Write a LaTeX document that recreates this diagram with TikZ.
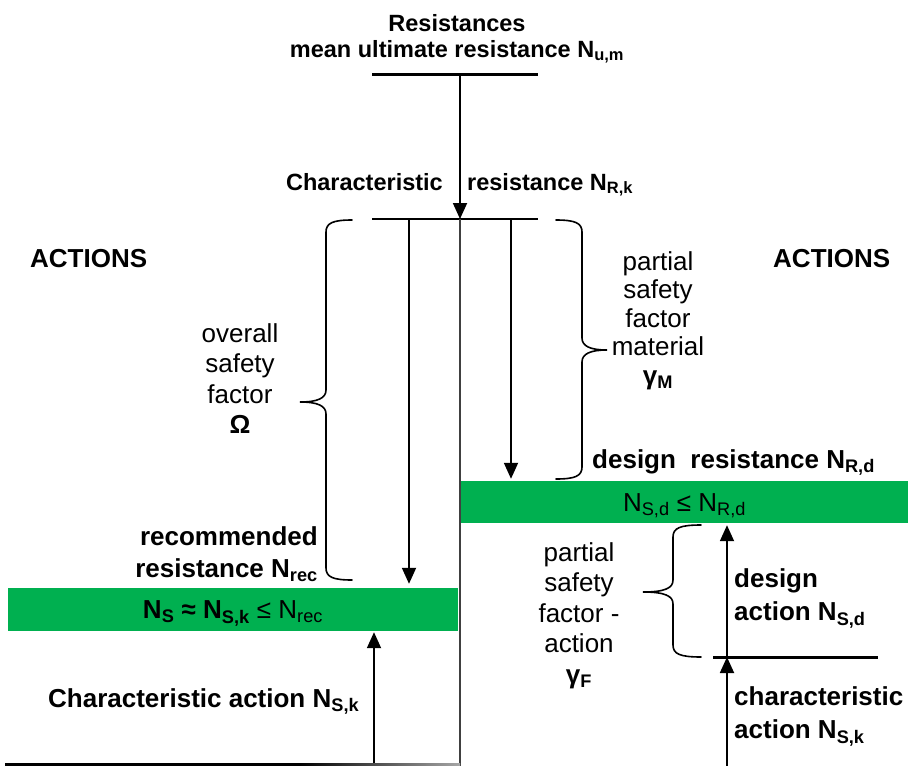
\documentclass[tikz,border=0pt]{standalone}
\usepackage{fontspec}
\setmainfont{Liberation Sans}
\usetikzlibrary{arrows.meta}
\definecolor{barGreen}{RGB}{0,176,80}
\newcommand\sbs[1]{\textsubscript{#1}}
\begin{document}
\begin{tikzpicture}[x=1pt,y=-1pt,
  rt/.style={inner sep=0pt, font=\fontsize{26}{30.5}\selectfont},
  bt/.style={inner sep=0pt, font=\fontsize{26}{33}\selectfont\bfseries},
  tt/.style={inner sep=0pt, font=\fontsize{23.5}{26}\selectfont\bfseries},
  arr/.style={line width=1.8pt, -{Triangle[width=14pt,length=16pt]}},
  brc/.style={line width=1.6pt, line cap=round},
  greenbar/.style={fill=barGreen, inner sep=0pt, text height=18.6pt, text depth=0pt, font=\fontsize{26}{30}\selectfont},
  midline/.style={line width=1.8pt, draw=black!75}
]
\useasboundingbox (0,0) rectangle (908,766);

% green bars
\node[greenbar, minimum width=450pt, minimum height=43pt] (barL) at (233,609.5)
  {\textbf{N\sbs{S} ≈ N\sbs{S,k}} ≤ N\sbs{rec}};
\node[greenbar, minimum width=447pt, minimum height=42pt] (barR) at (684.5,502)
  {N\sbs{S,d} ≤ N\sbs{R,d}};

% coordinates
\coordinate (t1L) at (372,74);
\coordinate (t1R) at (538,74);
\coordinate (t1M) at (460,74);
\coordinate (t2L) at (372,219);
\coordinate (t2R) at (538,219);
\coordinate (t2M) at (460,219);
\coordinate (a1) at (409,219);
\coordinate (a2) at (511,219);
\coordinate (bot) at (460,766);
\coordinate (up1) at (374,766);
\coordinate (up2) at (727,766);
\coordinate (hk) at (727,657);
\coordinate (hkL) at (713,657);
\coordinate (hkR) at (878,657);

% lines
\draw[line width=3pt] (t1L) -- (t1R);
\draw[line width=2.5pt] (t2L) -- (t2R);
\draw[arr] (t1M) -- (t2M);
\draw[midline] (t2M) -- (bot);
\draw[arr, shorten >=4pt] (a1) -- (a1 |- barL.north);
\draw[arr, shorten >=2pt] (a2) -- (a2 |- barR.north);
\draw[arr, shorten >=1pt] (up1) -- (up1 |- barL.south);
\draw[line width=3pt] (hkL) -- (hkR);
\draw[arr] (up2) -- (hk);
\draw[arr, shorten >=2pt] (hk) -- (hk |- barR.south);

% bottom line
\fill[black] (5,763) rectangle (300,766);
\shade[left color=black, right color=black!35] (300,763) rectangle (460,766);

% braces
\draw[brc] (352,220) .. controls (333,220) and (326,223) .. (326,232) -- (326,390)
  .. controls (326,398) and (318,402) .. (300,402)
  .. controls (318,402) and (326,406) .. (326,414) -- (326,568)
  .. controls (326,577) and (333,580) .. (352,580);
\draw[brc] (556,220) .. controls (575,220) and (582,223) .. (582,232) -- (582,338)
  .. controls (582,346) and (590,350) .. (607,350)
  .. controls (590,350) and (582,354) .. (582,362) -- (582,467)
  .. controls (582,476) and (575,479) .. (556,479);
\draw[brc] (701,525) .. controls (680,525) and (673,528) .. (673,537) -- (673,580)
  .. controls (673,588) and (665,592) .. (643,592)
  .. controls (665,592) and (673,596) .. (673,604) -- (673,645)
  .. controls (673,654) and (680,657) .. (701,657);

% texts
\node[tt, align=center, anchor=north] (title) at (457,14)
  {Resistances\\mean ultimate resistance N\sbs{u,m}};
\node[tt, anchor=base east] (charL) at (443,190) {Characteristic};
\node[tt, anchor=base west] (charR) at (467,190) {resistance N\sbs{R,k}};
\node[bt, anchor=base west] (actL) at (30,267) {ACTIONS};
\node[bt, anchor=base west] (actR) at (773,267) {ACTIONS};
\node[rt, align=center, anchor=north] (omega) at (240,323.4)
  {overall\\safety\\factor\\\textbf{Ω}};
\node[rt, align=center, anchor=north, font=\fontsize{26}{28.5}\selectfont] (gm) at (658,251.4)
  {partial\\safety\\factor\\material\\\textbf{γ\sbs{M}}};
\node[rt, align=center, anchor=north] (gf) at (579,542.4)
  {partial\\safety\\factor -\\action\\\textbf{γ\sbs{F}}};
\node[bt, align=right, anchor=north east, font=\fontsize{26}{32}\selectfont\bfseries] (rec) at (318,526.4)
  {recommended\\resistance N\sbs{rec}};
\node[bt, align=left, anchor=north west] (dact) at (734,568.4)
  {design\\action N\sbs{S,d}};
\node[bt, align=left, anchor=north west] (cact) at (734,686.4)
  {characteristic\\action N\sbs{S,k}};
\node[bt, anchor=base west] (dres) at (592,468) {design~ resistance N\sbs{R,d}};
\node[bt, anchor=base west] (chact) at (48,707) {Characteristic action N\sbs{S,k}};
\end{tikzpicture}
\end{document}
